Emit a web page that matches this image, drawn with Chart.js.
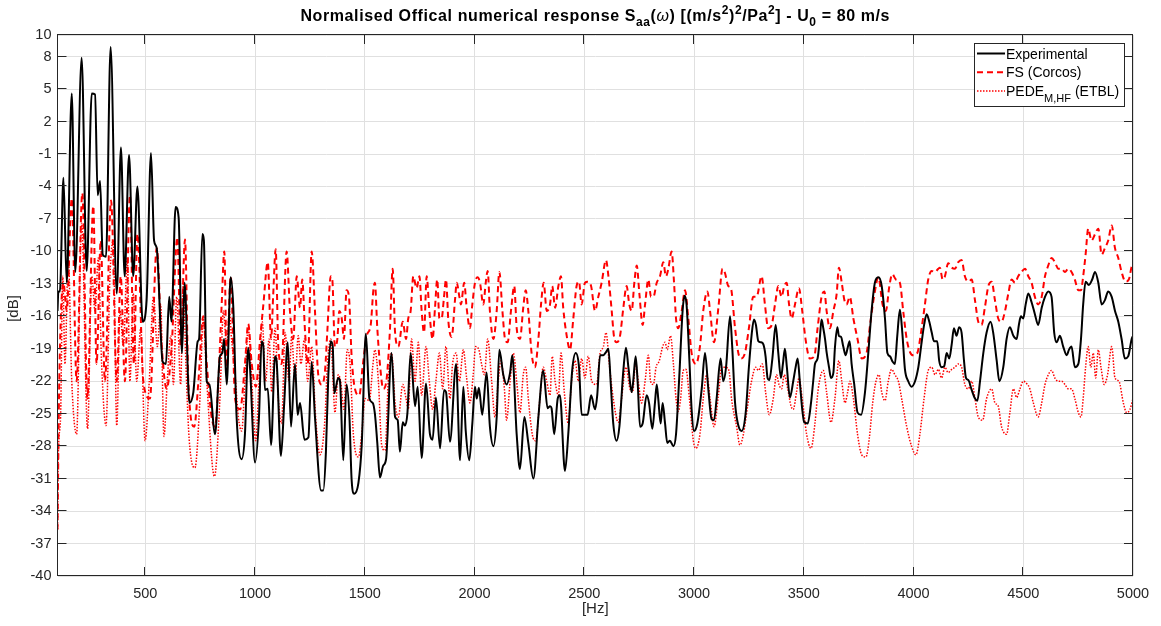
<!DOCTYPE html>
<html lang="en">
<head>
<meta charset="UTF-8">
<title>Normalised Offical numerical response</title>
<script src="https://cdn.jsdelivr.net/npm/chart.js"></script>
<style>
  html, body { margin: 0; padding: 0; background: #fff; }
  canvas { display: block; }
</style>
</head>
<body>
<canvas id="chart" width="1161" height="626"></canvas>
<script>
// axis ticks
const xTicks = [500, 1000, 1500, 2000, 2500, 3000, 3500, 4000, 4500, 5000];
const yTicks = [-40, -37, -34, -31, -28, -25, -22, -19, -16, -13, -10, -7, -4, -1, 2, 5, 8, 10];

// [frequency Hz, level dB]
const experimental = [
  [100,-15.5],[104,-13.7],[111,-13.7],[127,-3.2],[142,-12.9],[165,4.6],[181,-11.9],[210,7.9],[233,-11.8],[256,4.6],
  [271,4.5],[283,-4.8],[294,-3.5],[306,-10.3],[321,-10.5],[342,8.9],[370,-13.9],[389,-0.4],[406,-12.3],[426,-1.1],
  [445,-12.3],[464,-4.0],[488,-16.5],[506,-14.5],[526,-0.9],[540,-9.0],[552,-9.7],[579,-20.2],[594,-20.4],[609,-14.2],
  [619,-16.5],[638,-5.9],[652,-6.9],[667,-19.4],[679,-12.9],[701,-24.0],[719,-23.0],[739,-18.3],[745,-18.1],[760,-8.4],
  [767,-9.0],[780,-22.0],[792,-22.3],[818,-26.9],[840,-19.7],[851,-19.4],[859,-18.1],[871,-22.3],[889,-12.4],[901,-15.2],
  [916,-25.3],[939,-29.2],[954,-26.9],[969,-18.9],[977,-20.7],[1000,-29.5],[1018,-25.3],[1030,-18.3],[1038,-18.8],[1045,-22.8],
  [1058,-22.7],[1073,-27.9],[1091,-19.7],[1098,-20.1],[1118,-28.9],[1133,-24.0],[1149,-18.4],[1164,-26.2],[1182,-20.4],[1194,-25.1],
  [1205,-24.0],[1225,-27.4],[1243,-27.2],[1258,-20.2],[1273,-25.3],[1301,-32.1],[1311,-32.1],[1323,-28.5],[1334,-21.4],[1345,-18.3],
  [1354,-18.8],[1361,-23.1],[1379,-21.7],[1387,-22.0],[1402,-29.3],[1417,-22.3],[1430,-25.3],[1440,-31.1],[1452,-32.4],[1471,-31.4],
  [1486,-27.9],[1505,-17.6],[1521,-23.6],[1536,-24.0],[1546,-25.0],[1557,-27.7],[1569,-30.9],[1584,-29.8],[1597,-29.2],[1622,-19.4],
  [1638,-25.3],[1650,-25.6],[1660,-28.5],[1673,-25.8],[1683,-26.1],[1694,-25.0],[1709,-19.4],[1729,-24.3],[1741,-22.5],[1759,-29.1],
  [1779,-22.2],[1797,-26.9],[1809,-27.4],[1824,-23.5],[1843,-28.2],[1861,-22.8],[1870,-23.0],[1888,-27.6],[1916,-20.4],[1934,-29.3],
  [1949,-22.5],[1960,-26.6],[1976,-29.3],[1990,-25.9],[2002,-22.5],[2010,-23.6],[2020,-22.6],[2035,-25.1],[2055,-21.2],[2070,-26.2],
  [2086,-28.0],[2101,-25.3],[2113,-19.1],[2131,-21.4],[2146,-22.3],[2162,-21.2],[2172,-19.6],[2192,-26.9],[2207,-30.1],[2227,-25.3],
  [2245,-27.7],[2268,-31.0],[2291,-25.3],[2313,-21.0],[2333,-24.5],[2344,-24.3],[2351,-24.5],[2363,-26.9],[2379,-23.6],[2389,-23.3],
  [2412,-30.3],[2427,-26.9],[2445,-21.0],[2461,-19.4],[2476,-20.7],[2488,-25.1],[2503,-25.1],[2515,-25.1],[2531,-23.3],[2549,-24.6],
  [2559,-23.3],[2572,-19.6],[2587,-19.6],[2599,-19.3],[2610,-19.0],[2620,-22.0],[2632,-25.9],[2647,-27.5],[2660,-26.2],[2678,-21.0],
  [2690,-18.9],[2701,-20.7],[2716,-23.0],[2723,-22.0],[2734,-19.7],[2743,-22.0],[2754,-26.2],[2766,-25.9],[2784,-23.3],[2795,-24.0],
  [2810,-26.4],[2822,-24.0],[2830,-22.3],[2837,-23.6],[2848,-25.9],[2857,-24.0],[2868,-25.9],[2878,-27.7],[2890,-27.5],[2906,-28.0],
  [2918,-26.9],[2933,-21.5],[2948,-15.5],[2957,-14.1],[2966,-14.9],[2979,-20.1],[2989,-24.6],[3000,-26.6],[3015,-25.9],[3035,-22.7],
  [3050,-19.4],[3065,-22.7],[3080,-25.5],[3091,-25.6],[3103,-23.6],[3121,-19.9],[3133,-22.0],[3146,-20.7],[3164,-16.0],[3174,-18.8],
  [3187,-24.0],[3202,-26.1],[3217,-26.6],[3235,-25.0],[3250,-20.7],[3262,-17.8],[3273,-16.3],[3282,-16.8],[3293,-18.3],[3305,-18.4],
  [3316,-18.6],[3326,-19.7],[3335,-21.7],[3343,-21.9],[3357,-19.9],[3372,-16.8],[3384,-19.4],[3396,-21.7],[3405,-20.4],[3414,-19.0],
  [3423,-20.7],[3437,-23.5],[3452,-22.0],[3463,-20.7],[3472,-19.9],[3483,-22.3],[3493,-24.6],[3502,-25.8],[3518,-25.9],[3533,-24.0],
  [3543,-22.0],[3551,-20.4],[3563,-19.9],[3574,-17.8],[3581,-16.3],[3589,-17.1],[3597,-18.1],[3604,-19.3],[3615,-20.7],[3624,-21.7],
  [3635,-21.2],[3642,-18.9],[3653,-17.0],[3660,-17.8],[3670,-17.9],[3680,-18.8],[3691,-19.6],[3700,-18.9],[3709,-18.3],[3718,-20.4],
  [3730,-22.3],[3745,-24.9],[3761,-25.1],[3779,-23.0],[3794,-19.4],[3809,-15.5],[3824,-12.9],[3840,-12.4],[3855,-13.2],[3870,-16.2],
  [3881,-19.4],[3893,-19.7],[3905,-20.2],[3915,-20.4],[3926,-17.8],[3938,-15.4],[3949,-17.5],[3961,-20.9],[3976,-22.0],[3991,-22.5],
  [4007,-22.0],[4022,-20.7],[4037,-18.4],[4049,-16.7],[4060,-15.8],[4072,-16.5],[4083,-17.5],[4093,-18.3],[4108,-18.3],[4117,-20.1],
  [4128,-20.7],[4140,-20.6],[4151,-19.4],[4163,-19.9],[4174,-18.6],[4184,-17.1],[4196,-17.8],[4208,-17.0],[4219,-17.5],[4230,-20.1],
  [4239,-21.7],[4250,-21.9],[4265,-22.8],[4280,-23.6],[4291,-23.8],[4303,-22.0],[4318,-19.4],[4333,-17.5],[4351,-16.5],[4363,-17.5],
  [4379,-20.1],[4391,-22.0],[4409,-20.7],[4424,-18.1],[4439,-17.0],[4455,-17.8],[4470,-18.1],[4480,-16.8],[4489,-16.0],[4500,-16.2],
  [4511,-14.9],[4523,-13.9],[4538,-14.7],[4553,-15.8],[4568,-16.8],[4584,-15.2],[4599,-14.2],[4614,-13.7],[4629,-14.2],[4641,-17.5],
  [4652,-18.4],[4667,-17.8],[4682,-18.8],[4698,-19.6],[4708,-19.1],[4720,-18.8],[4735,-20.7],[4751,-20.4],[4763,-18.1],[4773,-14.9],
  [4784,-12.8],[4799,-13.1],[4814,-12.6],[4827,-11.9],[4842,-12.9],[4857,-14.9],[4872,-14.5],[4887,-13.7],[4903,-14.2],[4918,-15.5],
  [4933,-16.5],[4948,-18.1],[4963,-19.9],[4978,-19.7],[4994,-18.1],[5000,-17.8]
];

const fsCorcos = [
  [100,-35.7],[108,-22.0],[127,-12.9],[142,-15.5],[165,-5.1],[187,-22.0],[213,-4.6],[236,-23.6],[263,-5.8],[278,-20.4],
  [297,-9.0],[316,-22.0],[344,-5.3],[370,-22.0],[388,-12.3],[407,-22.0],[430,-4.8],[448,-20.4],[464,-8.4],[491,-22.0],
  [521,-23.6],[552,-9.7],[575,-18.8],[597,-22.7],[620,-18.8],[646,-8.7],[661,-18.8],[681,-8.9],[696,-22.0],[723,-26.2],
  [742,-22.0],[764,-16.0],[780,-20.4],[802,-25.3],[818,-26.2],[833,-22.0],[848,-14.9],[860,-10.0],[871,-20.7],[889,-12.3],
  [909,-23.6],[932,-24.6],[954,-20.4],[969,-16.7],[985,-20.4],[1004,-22.5],[1023,-18.1],[1038,-14.9],[1058,-11.0],[1073,-18.1],
  [1083,-13.9],[1094,-9.8],[1106,-18.8],[1121,-20.4],[1144,-10.0],[1159,-15.5],[1174,-18.1],[1190,-12.3],[1205,-15.2],[1215,-12.6],
  [1228,-17.5],[1240,-20.4],[1258,-10.0],[1273,-15.5],[1288,-21.4],[1304,-22.3],[1319,-21.0],[1329,-17.5],[1345,-12.3],[1352,-12.6],
  [1364,-18.8],[1375,-18.1],[1384,-15.5],[1395,-16.2],[1405,-18.1],[1417,-13.6],[1428,-14.2],[1440,-19.7],[1455,-22.7],[1475,-23.3],
  [1490,-20.7],[1509,-17.8],[1527,-16.8],[1539,-13.6],[1546,-12.9],[1557,-17.1],[1569,-20.4],[1584,-22.7],[1600,-21.7],[1615,-17.1],
  [1627,-11.6],[1638,-17.5],[1653,-18.8],[1673,-16.5],[1688,-18.1],[1698,-16.2],[1709,-15.5],[1721,-12.3],[1736,-13.4],[1749,-12.3],
  [1759,-15.5],[1770,-17.5],[1782,-12.3],[1794,-15.5],[1809,-18.1],[1820,-15.2],[1830,-12.6],[1840,-16.2],[1850,-16.2],[1861,-14.2],
  [1870,-12.6],[1881,-16.5],[1896,-17.9],[1911,-14.5],[1919,-12.9],[1931,-14.2],[1938,-14.9],[1953,-12.9],[1964,-15.2],[1979,-17.1],
  [1990,-14.9],[2002,-12.9],[2014,-12.4],[2025,-12.9],[2040,-14.9],[2051,-12.9],[2060,-11.8],[2070,-15.5],[2086,-18.1],[2101,-15.5],
  [2113,-11.9],[2127,-15.5],[2139,-18.1],[2151,-18.4],[2166,-15.5],[2181,-13.2],[2192,-17.1],[2207,-18.1],[2222,-15.2],[2233,-13.6],
  [2245,-15.5],[2260,-19.4],[2275,-20.7],[2291,-18.1],[2303,-14.9],[2315,-12.9],[2329,-15.5],[2344,-14.9],[2354,-13.2],[2367,-15.2],
  [2382,-13.2],[2394,-12.3],[2404,-15.2],[2420,-17.8],[2435,-19.1],[2450,-16.2],[2465,-13.2],[2476,-12.8],[2488,-14.9],[2503,-12.9],
  [2515,-12.8],[2531,-13.2],[2549,-15.5],[2564,-14.2],[2579,-12.9],[2599,-10.8],[2610,-12.3],[2625,-15.5],[2635,-17.8],[2647,-18.4],
  [2663,-17.8],[2678,-15.2],[2693,-13.2],[2705,-14.9],[2716,-15.5],[2728,-12.9],[2739,-11.3],[2751,-13.9],[2766,-16.8],[2777,-14.9],
  [2792,-12.6],[2804,-14.2],[2815,-14.2],[2830,-12.9],[2845,-12.3],[2860,-11.0],[2872,-12.3],[2883,-11.6],[2898,-10.0],[2909,-12.9],
  [2918,-16.2],[2928,-17.1],[2944,-15.5],[2959,-13.6],[2974,-16.2],[2989,-19.4],[3009,-20.4],[3027,-18.8],[3042,-15.5],[3061,-13.7],
  [3073,-15.5],[3091,-18.4],[3111,-15.2],[3130,-11.6],[3141,-12.0],[3156,-13.2],[3168,-13.4],[3187,-17.1],[3202,-19.4],[3214,-19.9],
  [3232,-19.4],[3250,-17.1],[3270,-14.2],[3285,-14.2],[3308,-12.3],[3323,-14.9],[3338,-17.1],[3354,-16.8],[3369,-14.9],[3384,-13.2],
  [3399,-14.2],[3411,-13.2],[3422,-12.9],[3433,-14.9],[3445,-16.2],[3460,-14.9],[3478,-13.4],[3493,-15.5],[3508,-18.1],[3528,-19.9],
  [3548,-19.7],[3563,-17.1],[3581,-14.2],[3594,-13.7],[3604,-15.5],[3619,-17.1],[3635,-15.5],[3650,-13.9],[3660,-11.5],[3673,-12.9],
  [3685,-14.5],[3695,-14.9],[3710,-14.2],[3726,-16.2],[3745,-18.1],[3764,-19.9],[3786,-19.4],[3802,-16.8],[3820,-14.2],[3840,-12.4],
  [3859,-14.9],[3874,-15.5],[3890,-13.2],[3903,-12.1],[3920,-12.6],[3938,-12.9],[3953,-15.5],[3969,-18.1],[3984,-19.3],[3999,-19.6],
  [4017,-19.4],[4037,-17.1],[4052,-14.9],[4067,-12.6],[4083,-11.8],[4098,-11.9],[4113,-11.6],[4120,-11.5],[4133,-12.6],[4143,-12.3],
  [4158,-11.1],[4174,-11.5],[4189,-11.6],[4204,-11.0],[4219,-10.8],[4234,-12.3],[4250,-12.8],[4265,-12.6],[4280,-14.5],[4295,-16.5],
  [4310,-16.8],[4325,-15.2],[4341,-13.2],[4356,-12.8],[4371,-14.5],[4386,-16.2],[4401,-16.5],[4417,-15.5],[4432,-13.9],[4447,-12.6],
  [4462,-12.9],[4477,-12.3],[4492,-11.9],[4508,-11.6],[4523,-12.3],[4538,-12.9],[4553,-14.2],[4568,-14.9],[4584,-14.2],[4599,-12.3],
  [4614,-11.3],[4629,-10.6],[4644,-11.0],[4660,-11.6],[4675,-11.6],[4690,-11.9],[4705,-11.6],[4720,-11.9],[4735,-12.6],[4751,-13.6],
  [4763,-13.6],[4773,-12.3],[4784,-10.3],[4796,-7.9],[4811,-9.0],[4827,-8.4],[4842,-7.9],[4857,-10.3],[4872,-9.7],[4887,-9.0],
  [4903,-7.6],[4918,-9.7],[4933,-10.6],[4948,-11.9],[4966,-12.8],[4981,-12.6],[4997,-11.3],[5000,-11.5]
];

const pedeEtbl = [
  [100,-35.7],[104,-28.5],[114,-25.3],[124,-12.3],[134,-20.4],[149,-10.6],[165,-22.0],[187,-26.9],[210,-7.4],[237,-26.4],
  [256,-12.3],[271,-15.5],[286,-10.6],[301,-20.4],[321,-26.1],[339,-12.3],[354,-9.0],[370,-26.1],[385,-15.5],[400,-18.8],
  [418,-10.6],[430,-22.0],[445,-13.9],[461,-22.0],[479,-17.1],[499,-27.5],[518,-22.0],[537,-14.2],[555,-18.8],[570,-14.9],
  [585,-27.1],[600,-22.0],[616,-17.8],[628,-22.3],[643,-14.2],[661,-22.3],[673,-12.9],[685,-20.4],[700,-27.4],[726,-30.0],
  [749,-23.6],[764,-16.2],[780,-22.0],[815,-30.8],[840,-23.6],[856,-15.5],[871,-18.8],[883,-15.5],[893,-18.1],[909,-21.4],
  [924,-25.3],[939,-26.6],[954,-22.0],[969,-17.1],[985,-22.0],[1003,-27.5],[1018,-22.0],[1033,-16.5],[1048,-22.0],[1064,-18.1],
  [1076,-23.0],[1091,-17.1],[1106,-23.6],[1121,-25.9],[1137,-17.5],[1155,-22.0],[1167,-17.8],[1182,-22.0],[1197,-17.8],[1209,-20.4],
  [1225,-18.1],[1240,-22.0],[1258,-18.8],[1276,-25.3],[1296,-28.8],[1319,-25.3],[1329,-20.7],[1345,-18.1],[1357,-22.7],[1364,-24.9],
  [1379,-21.4],[1390,-22.0],[1405,-24.6],[1420,-19.1],[1433,-20.4],[1448,-26.9],[1471,-29.0],[1486,-26.9],[1501,-23.6],[1521,-23.8],
  [1536,-20.7],[1546,-19.1],[1562,-22.0],[1577,-27.9],[1592,-28.4],[1607,-22.0],[1622,-19.4],[1638,-24.0],[1653,-25.3],[1673,-22.3],
  [1688,-23.6],[1698,-24.6],[1713,-18.1],[1729,-22.0],[1744,-18.4],[1759,-23.3],[1779,-18.8],[1794,-22.0],[1809,-24.6],[1824,-22.0],
  [1840,-19.4],[1855,-22.7],[1870,-18.8],[1888,-23.6],[1900,-20.4],[1916,-19.4],[1931,-22.0],[1949,-19.1],[1964,-21.7],[1979,-24.0],
  [1994,-21.4],[2005,-18.8],[2020,-19.1],[2032,-20.4],[2045,-21.4],[2060,-18.1],[2078,-22.0],[2093,-25.3],[2108,-22.0],[2120,-20.1],
  [2136,-22.7],[2146,-25.6],[2162,-22.0],[2177,-19.4],[2192,-22.0],[2207,-24.9],[2222,-21.4],[2233,-20.7],[2245,-23.6],[2263,-26.9],
  [2278,-27.5],[2298,-23.6],[2313,-20.7],[2329,-22.0],[2344,-23.3],[2354,-19.7],[2367,-22.0],[2382,-23.3],[2394,-19.4],[2409,-23.0],
  [2427,-25.9],[2442,-22.0],[2458,-20.1],[2473,-22.0],[2488,-19.9],[2503,-21.7],[2518,-19.7],[2534,-22.0],[2556,-22.3],[2572,-19.4],
  [2587,-18.8],[2599,-17.5],[2614,-20.4],[2632,-23.6],[2655,-25.8],[2670,-23.6],[2690,-20.7],[2708,-22.7],[2720,-23.0],[2734,-20.4],
  [2746,-22.0],[2761,-24.0],[2777,-22.0],[2792,-19.6],[2802,-22.0],[2815,-22.3],[2827,-20.7],[2842,-20.1],[2857,-18.8],[2868,-18.4],
  [2878,-19.1],[2893,-17.8],[2906,-20.4],[2918,-23.6],[2928,-24.8],[2939,-23.6],[2951,-21.0],[2963,-20.9],[2979,-23.6],[2997,-27.5],
  [3009,-28.2],[3027,-26.9],[3042,-23.6],[3058,-21.4],[3073,-23.6],[3091,-26.2],[3111,-23.3],[3126,-20.7],[3141,-20.7],[3159,-21.0],
  [3171,-23.6],[3194,-26.2],[3209,-27.9],[3225,-26.9],[3244,-24.3],[3262,-22.0],[3281,-20.7],[3293,-21.0],[3311,-20.4],[3326,-23.0],
  [3343,-25.1],[3361,-23.6],[3376,-21.4],[3387,-22.3],[3399,-22.7],[3411,-21.4],[3427,-22.7],[3442,-24.3],[3452,-24.6],[3467,-23.0],
  [3478,-21.7],[3493,-23.6],[3513,-26.9],[3533,-28.2],[3551,-25.9],[3566,-22.7],[3589,-21.0],[3604,-23.0],[3624,-25.8],[3642,-23.6],
  [3660,-20.1],[3673,-22.0],[3688,-24.0],[3700,-23.0],[3710,-22.0],[3726,-23.6],[3745,-26.9],[3764,-28.8],[3783,-29.0],[3799,-27.2],
  [3814,-24.0],[3829,-22.0],[3843,-21.4],[3855,-23.0],[3870,-23.8],[3885,-22.0],[3900,-20.9],[3915,-21.4],[3931,-22.0],[3946,-23.6],
  [3969,-26.2],[3991,-28.0],[4011,-28.8],[4029,-26.9],[4048,-23.6],[4067,-21.0],[4083,-20.7],[4098,-21.4],[4113,-20.9],[4128,-21.7],
  [4143,-20.7],[4158,-21.2],[4174,-20.9],[4189,-20.7],[4204,-20.4],[4219,-20.7],[4234,-22.3],[4250,-22.7],[4265,-22.0],[4280,-23.6],
  [4295,-25.3],[4315,-25.6],[4333,-23.6],[4356,-22.7],[4371,-24.0],[4386,-24.3],[4401,-26.2],[4424,-26.9],[4439,-24.9],[4455,-22.7],
  [4470,-23.5],[4485,-22.7],[4500,-22.0],[4515,-22.2],[4530,-22.7],[4546,-24.0],[4568,-25.3],[4584,-24.0],[4599,-22.3],[4614,-21.4],
  [4629,-21.0],[4644,-21.7],[4660,-22.0],[4675,-22.0],[4690,-22.3],[4705,-22.7],[4720,-22.7],[4735,-23.6],[4751,-24.9],[4763,-25.3],
  [4773,-23.6],[4784,-20.7],[4796,-18.8],[4808,-20.7],[4819,-19.4],[4830,-21.7],[4842,-19.1],[4854,-20.7],[4869,-22.3],[4884,-21.4],
  [4903,-18.8],[4918,-21.7],[4936,-22.0],[4956,-24.0],[4971,-24.9],[4986,-24.6],[5000,-23.6]
];

const FONT = "'Liberation Sans', Arial, Helvetica, sans-serif";
const INK = '#262626';
const RED = '#ff0000';

function toPoints(pairs) {
  return pairs.map(p => ({ x: p[0], y: p[1] }));
}

// text made of runs, for sub/superscripts
function runFont(r, base) {
  const size = r.size || base.size;
  const weight = r.weight || base.weight || 'normal';
  const style = r.style || 'normal';
  return style + ' ' + weight + ' ' + size + 'px ' + FONT;
}

function drawRuns(ctx, runs, x, y, base, align) {
  ctx.letterSpacing = base.spacing || '0px';
  let total = 0;
  runs.forEach(r => {
    ctx.font = runFont(r, base);
    r.w = ctx.measureText(r.t).width;
    total += r.w;
  });
  let cx = align === 'center' ? x - total / 2 : x;
  ctx.textAlign = 'left';
  ctx.textBaseline = 'alphabetic';
  runs.forEach(r => {
    ctx.font = runFont(r, base);
    ctx.fillText(r.t, cx, y + (r.dy || 0));
    cx += r.w;
  });
  ctx.letterSpacing = '0px';
}

const titleRuns = [
  { t: 'Normalised Offical numerical response S' },
  { t: 'aa', size: 12, dy: 5 },
  { t: '(' },
  { t: '\u03c9', weight: 'normal', style: 'italic' },
  { t: ') [(m/s' },
  { t: '2', size: 12, dy: -7 },
  { t: ')' },
  { t: '2', size: 12, dy: -7 },
  { t: '/Pa' },
  { t: '2', size: 12, dy: -7 },
  { t: '] - U' },
  { t: '0', size: 12, dy: 5 },
  { t: ' = 80 m/s' }
];

const legendRows = [
  { runs: [{ t: 'Experimental' }], color: '#000000', width: 2, dash: [] },
  { runs: [{ t: 'FS (Corcos)' }], color: RED, width: 2, dash: [6, 4] },
  { runs: [{ t: 'PEDE' }, { t: 'M,HF', size: 11, dy: 6 }, { t: ' (ETBL)' }], color: RED, width: 1.5, dash: [1.5, 1.5] }
];

// axes box with inward tick marks
const framePlugin = {
  id: 'frame',
  afterDatasetsDraw(chart) {
    const { ctx, chartArea: a, scales } = chart;
    const len = 9;
    ctx.save();
    ctx.strokeStyle = INK;
    ctx.lineWidth = 1;
    ctx.beginPath();
    xTicks.forEach(v => {
      const px = Math.round(scales.x.getPixelForValue(v)) - 0.5;
      ctx.moveTo(px, a.bottom); ctx.lineTo(px, a.bottom - len);
      ctx.moveTo(px, a.top); ctx.lineTo(px, a.top + len);
    });
    yTicks.forEach(v => {
      const py = Math.round(scales.y.getPixelForValue(v)) - 0.5;
      ctx.moveTo(a.left, py); ctx.lineTo(a.left + len, py);
      ctx.moveTo(a.right, py); ctx.lineTo(a.right - len, py);
    });
    ctx.stroke();
    ctx.strokeRect(Math.round(a.left) - 0.5, Math.round(a.top) - 0.5,
      Math.round(a.right) - Math.round(a.left), Math.round(a.bottom) - Math.round(a.top));
    ctx.restore();
  }
};

// title, axis labels and legend
const textPlugin = {
  id: 'texts',
  afterDraw(chart) {
    const { ctx, chartArea: a } = chart;
    const midX = (a.left + a.right) / 2;
    ctx.save();
    ctx.fillStyle = '#000000';
    drawRuns(ctx, titleRuns, midX, 21, { size: 16, weight: 'bold', spacing: '0.6px' }, 'center');

    ctx.fillStyle = INK;
    ctx.font = '15px ' + FONT;
    ctx.textAlign = 'center';
    ctx.textBaseline = 'middle';
    ctx.fillText('[Hz]', midX, 609);
    ctx.save();
    ctx.translate(14, (a.top + a.bottom) / 2 + 3);
    ctx.rotate(-Math.PI / 2);
    ctx.fillText('[dB]', 0, 0);
    ctx.restore();

    // legend box
    const bx = 974.5, by = 43.5, bw = 150, bh = 63;
    ctx.fillStyle = '#ffffff';
    ctx.fillRect(bx, by, bw, bh);
    ctx.strokeStyle = INK;
    ctx.lineWidth = 1;
    ctx.strokeRect(bx, by, bw, bh);
    legendRows.forEach((row, i) => {
      const ly = 53.5 + i * 18.7;
      ctx.save();
      ctx.strokeStyle = row.color;
      ctx.lineWidth = row.width;
      ctx.setLineDash(row.dash);
      ctx.beginPath();
      ctx.moveTo(977, ly);
      ctx.lineTo(1005, ly);
      ctx.stroke();
      ctx.restore();
      ctx.fillStyle = '#000000';
      drawRuns(ctx, row.runs, 1006, ly + 5, { size: 14 }, 'left');
    });
    ctx.restore();
  }
};

const ctx = document.getElementById('chart').getContext('2d');
new Chart(ctx, {
  type: 'line',
  data: {
    datasets: [
      {
        label: 'Experimental',
        data: toPoints(experimental),
        borderColor: '#000000',
        borderWidth: 2,
        pointRadius: 0,
        cubicInterpolationMode: 'monotone'
      },
      {
        label: 'FS (Corcos)',
        data: toPoints(fsCorcos),
        borderColor: RED,
        borderWidth: 2,
        borderDash: [6, 4],
        pointRadius: 0,
        cubicInterpolationMode: 'monotone'
      },
      {
        label: 'PEDE M,HF (ETBL)',
        data: toPoints(pedeEtbl),
        borderColor: RED,
        borderWidth: 1.5,
        borderDash: [1.5, 1.5],
        pointRadius: 0,
        cubicInterpolationMode: 'monotone'
      }
    ]
  },
  options: {
    responsive: false,
    animation: false,
    events: [],
    layout: { padding: { top: 35, right: 28, left: 0, bottom: 0 } },
    plugins: {
      legend: { display: false },
      title: { display: false },
      tooltip: { enabled: false }
    },
    scales: {
      x: {
        type: 'linear',
        min: 100,
        max: 5000,
        afterBuildTicks: s => { s.ticks = xTicks.map(v => ({ value: v })); },
        afterFit: s => { s.height = 50; },
        grid: { color: '#e0e0e0', drawTicks: false },
        border: { display: false },
        ticks: {
          autoSkip: false,
          maxRotation: 0,
          padding: 9,
          color: INK,
          font: { family: FONT, size: 14.5 },
          callback: v => String(v)
        }
      },
      y: {
        min: -40,
        max: 10,
        afterBuildTicks: s => { s.ticks = yTicks.map(v => ({ value: v })); },
        afterFit: s => { s.width = 57.5; },
        grid: { color: '#e0e0e0', drawTicks: false },
        border: { display: false },
        ticks: {
          autoSkip: false,
          padding: 6,
          color: INK,
          font: { family: FONT, size: 14.5 },
          callback: v => String(v)
        }
      }
    }
  },
  plugins: [framePlugin, textPlugin]
});
</script>
</body>
</html>
